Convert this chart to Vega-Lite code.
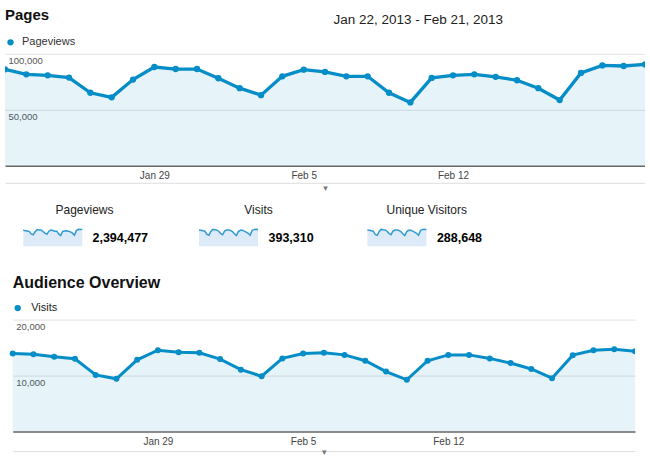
{
  "$schema": "https://vega.github.io/schema/vega-lite/v6.json",
  "padding": {"left": 5, "top": 7.8, "right": 0, "bottom": 0},
  "background": "white",
  "datasets": {
    "ga": [
      {"d": "2013-01-22T00:00:00", "pv": 86100, "v": 13950, "uv": 10240},
      {"d": "2013-01-23T00:00:00", "pv": 81700, "v": 13830, "uv": 10150},
      {"d": "2013-01-24T00:00:00", "pv": 80800, "v": 13350, "uv": 9800},
      {"d": "2013-01-25T00:00:00", "pv": 78800, "v": 13000, "uv": 9540},
      {"d": "2013-01-26T00:00:00", "pv": 65200, "v": 10120, "uv": 7430},
      {"d": "2013-01-27T00:00:00", "pv": 61100, "v": 9420, "uv": 6910},
      {"d": "2013-01-28T00:00:00", "pv": 77000, "v": 12820, "uv": 9410},
      {"d": "2013-01-29T00:00:00", "pv": 88200, "v": 14530, "uv": 10660},
      {"d": "2013-01-30T00:00:00", "pv": 86400, "v": 14180, "uv": 10410},
      {"d": "2013-01-31T00:00:00", "pv": 86400, "v": 14060, "uv": 10320},
      {"d": "2013-02-01T00:00:00", "pv": 78200, "v": 12950, "uv": 9510},
      {"d": "2013-02-02T00:00:00", "pv": 69300, "v": 11060, "uv": 8120},
      {"d": "2013-02-03T00:00:00", "pv": 63100, "v": 9890, "uv": 7260},
      {"d": "2013-02-04T00:00:00", "pv": 79900, "v": 13070, "uv": 9590},
      {"d": "2013-02-05T00:00:00", "pv": 85800, "v": 13950, "uv": 10240},
      {"d": "2013-02-06T00:00:00", "pv": 83800, "v": 14060, "uv": 10320},
      {"d": "2013-02-07T00:00:00", "pv": 79900, "v": 13700, "uv": 10060},
      {"d": "2013-02-08T00:00:00", "pv": 79900, "v": 12650, "uv": 9290},
      {"d": "2013-02-09T00:00:00", "pv": 65200, "v": 10710, "uv": 7860},
      {"d": "2013-02-10T00:00:00", "pv": 56600, "v": 9240, "uv": 6780},
      {"d": "2013-02-11T00:00:00", "pv": 78500, "v": 12650, "uv": 9290},
      {"d": "2013-02-12T00:00:00", "pv": 80800, "v": 13700, "uv": 10060},
      {"d": "2013-02-13T00:00:00", "pv": 81700, "v": 13700, "uv": 10060},
      {"d": "2013-02-14T00:00:00", "pv": 79400, "v": 13070, "uv": 9590},
      {"d": "2013-02-15T00:00:00", "pv": 76400, "v": 12240, "uv": 8980},
      {"d": "2013-02-16T00:00:00", "pv": 69300, "v": 11180, "uv": 8210},
      {"d": "2013-02-17T00:00:00", "pv": 58700, "v": 9540, "uv": 7000},
      {"d": "2013-02-18T00:00:00", "pv": 82900, "v": 13650, "uv": 10020},
      {"d": "2013-02-19T00:00:00", "pv": 89600, "v": 14530, "uv": 10660},
      {"d": "2013-02-20T00:00:00", "pv": 89100, "v": 14710, "uv": 10800},
      {"d": "2013-02-21T00:00:00", "pv": 90500, "v": 14360, "uv": 10540}
    ]
  },
  "title": {
    "text": "Jan 22, 2013 - Feb 21, 2013",
    "anchor": "end",
    "frame": "bounds",
    "fontSize": 13.5,
    "fontWeight": "normal",
    "color": "#222",
    "baseline": "alphabetic",
    "offset": 0,
    "dx": -142,
    "dy": 28.7
  },
  "spacing": 10.4,
  "resolve": {"scale": {"color": "independent"}, "legend": {"color": "independent"}},
  "vconcat": [
    {
      "width": 640,
      "height": 112,
      "data": {"name": "ga"},
      "title": {"text": "Pages", "anchor": "start", "frame": "group", "fontSize": 15, "fontWeight": "bold", "color": "#111", "baseline": "alphabetic", "offset": 1.3},
      "resolve": {"axis": {"x": "independent"}},
      "layer": [
        {
          "mark": {"type": "area", "color": "#058dc7", "opacity": 0.1, "clip": true},
          "encoding": {
            "x": {
              "field": "d", "type": "temporal", "title": null,
              "axis": {
                "orient": "bottom",
                "values": [{"year": 2013, "month": "jan", "date": 29}, {"year": 2013, "month": "feb", "date": 5}, {"year": 2013, "month": "feb", "date": 12}],
                "format": "%b %-d", "grid": false, "ticks": false, "tickSize": 0,
                "domain": true, "domainColor": "#666", "domainWidth": 1.5,
                "labelFontSize": 10, "labelColor": "#444", "labelPadding": 5, "labelFlush": false
              }
            },
            "y": {
              "field": "pv", "type": "quantitative", "title": null,
              "scale": {"domain": [0, 100000], "nice": false},
              "axis": {"values": [50000, 100000], "format": ",d", "grid": true, "gridColor": "#e2e2e2", "domain": false, "ticks": false, "tickSize": 0, "labelAlign": "left", "labelBaseline": "top", "labelPadding": -3, "labelOffset": 1.5, "labelFontSize": 9.5, "labelColor": "#555", "labelFlush": false}
            }
          }
        },
        {
          "mark": {"type": "line", "color": "#058dc7", "strokeWidth": 3.3, "clip": true},
          "encoding": {
            "x": {
              "field": "d", "type": "temporal", "title": "▾",
              "axis": {"orient": "bottom", "offset": 17, "labels": false, "ticks": false, "grid": false, "domain": true, "domainColor": "#dddddd", "domainWidth": 1, "minExtent": 0, "titleFont": "DejaVu Sans", "titleFontSize": 9, "titleFontWeight": "normal", "titleColor": "#777", "titlePadding": 1}
            },
            "y": {"field": "pv", "type": "quantitative"}
          }
        },
        {
          "mark": {"type": "point", "filled": true, "opacity": 1, "size": 40, "clip": true},
          "encoding": {
            "x": {"field": "d", "type": "temporal", "axis": null},
            "y": {"field": "pv", "type": "quantitative"},
            "color": {"datum": "Pageviews", "scale": {"range": ["#058dc7"]}, "legend": {"orient": "top", "title": null, "symbolType": "circle", "symbolSize": 40, "labelFontSize": 11, "labelColor": "#333", "offset": 6.5, "padding": 0, "labelOffset": 6}}
          }
        }
      ]
    },
    {
      "bounds": "flush",
      "spacing": 108.7,
      "hconcat": [
        {
          "width": 77, "height": 35.8,
          "data": {"name": "ga"},
          "title": {"text": "Pageviews", "frame": "group", "anchor": "middle", "dx": 41, "offset": 0.4, "baseline": "alphabetic", "fontSize": 12, "fontWeight": "normal", "color": "#222"},
          "encoding": {
            "x": {"field": "d", "type": "temporal", "axis": null, "scale": {"range": [18.3, 77.3]}},
            "y": {"field": "pv", "type": "quantitative", "scale": {"domain": [0, 95800], "nice": false, "range": [18, 0]},
              "axis": {"orient": "right", "title": "2,394,477", "labels": false, "ticks": false, "domain": false, "grid": false, "minExtent": 0, "titleAngle": 0, "titleAlign": "left", "titleBaseline": "middle", "titlePadding": 10, "titleFontSize": 12.5, "titleFontWeight": "bold", "titleColor": "#000"}}
          },
          "layer": [
            {"mark": {"type": "area", "color": "#dcebf7", "opacity": 1}},
            {"mark": {"type": "line", "color": "#2f9ad3", "strokeWidth": 1.5}}
          ]
        },
        {
          "width": 67.3, "height": 35.8,
          "data": {"name": "ga"},
          "title": {"text": "Visits", "frame": "group", "anchor": "middle", "dx": 34.15, "offset": 0.4, "baseline": "alphabetic", "fontSize": 12, "fontWeight": "normal", "color": "#222"},
          "encoding": {
            "x": {"field": "d", "type": "temporal", "axis": null, "scale": {"range": [8.3, 67.3]}},
            "y": {"field": "v", "type": "quantitative", "scale": {"domain": [0, 15580], "nice": false, "range": [18, 0]},
              "axis": {"orient": "right", "title": "393,310", "labels": false, "ticks": false, "domain": false, "grid": false, "minExtent": 0, "titleAngle": 0, "titleAlign": "left", "titleBaseline": "middle", "titlePadding": 10, "titleFontSize": 12.5, "titleFontWeight": "bold", "titleColor": "#000"}}
          },
          "layer": [
            {"mark": {"type": "area", "color": "#dcebf7", "opacity": 1}},
            {"mark": {"type": "line", "color": "#2f9ad3", "strokeWidth": 1.5}}
          ]
        },
        {
          "width": 59, "height": 35.8,
          "data": {"name": "ga"},
          "title": {"text": "Unique Visitors", "frame": "group", "anchor": "middle", "dx": 29.8, "offset": 0.4, "baseline": "alphabetic", "fontSize": 12, "fontWeight": "normal", "color": "#222"},
          "encoding": {
            "x": {"field": "d", "type": "temporal", "axis": null},
            "y": {"field": "uv", "type": "quantitative", "scale": {"domain": [0, 11440], "nice": false, "range": [18, 0]},
              "axis": {"orient": "right", "title": "288,648", "labels": false, "ticks": false, "domain": false, "grid": false, "minExtent": 0, "titleAngle": 0, "titleAlign": "left", "titleBaseline": "middle", "titlePadding": 10, "titleFontSize": 12.5, "titleFontWeight": "bold", "titleColor": "#000"}}
          },
          "layer": [
            {"mark": {"type": "area", "color": "#dcebf7", "opacity": 1}},
            {"mark": {"type": "line", "color": "#2f9ad3", "strokeWidth": 1.5}}
          ]
        }
      ]
    },
    {
      "width": 630,
      "height": 112,
      "data": {"name": "ga"},
      "title": {"text": "Audience Overview", "anchor": "start", "frame": "group", "fontSize": 16, "fontWeight": "bold", "color": "#111", "baseline": "alphabetic", "offset": -1.7, "dx": 7.7},
      "resolve": {"axis": {"x": "independent"}},
      "layer": [
        {
          "mark": {"type": "area", "color": "#058dc7", "opacity": 0.1, "clip": true},
          "encoding": {
            "x": {
              "field": "d", "type": "temporal", "title": null,
              "scale": {"range": [7.7, 630]},
              "axis": {
                "orient": "bottom",
                "values": [{"year": 2013, "month": "jan", "date": 29}, {"year": 2013, "month": "feb", "date": 5}, {"year": 2013, "month": "feb", "date": 12}],
                "format": "%b %-d", "grid": false, "ticks": false, "tickSize": 0,
                "domain": true, "domainColor": "#666", "domainWidth": 1.5,
                "labelFontSize": 10, "labelColor": "#444", "labelPadding": 4.5, "labelFlush": false
              }
            },
            "y": {
              "field": "v", "type": "quantitative", "title": null,
              "scale": {"domain": [0, 20000], "nice": false},
              "axis": {"values": [10000, 20000], "format": ",d", "grid": true, "gridColor": "#e2e2e2", "domain": false, "ticks": false, "tickSize": 0, "labelAlign": "left", "labelBaseline": "top", "labelPadding": -10.7, "labelOffset": 1.5, "labelFontSize": 9.5, "labelColor": "#555", "labelFlush": false}
            }
          }
        },
        {
          "mark": {"type": "line", "color": "#058dc7", "strokeWidth": 3, "clip": true},
          "encoding": {
            "x": {
              "field": "d", "type": "temporal", "title": "▾",
              "axis": {"orient": "bottom", "offset": 19.5, "labels": false, "ticks": false, "grid": false, "domain": true, "domainColor": "#dddddd", "domainWidth": 1, "minExtent": 0, "titleFont": "DejaVu Sans", "titleFontSize": 9, "titleFontWeight": "normal", "titleColor": "#777", "titlePadding": -3.5}
            },
            "y": {"field": "v", "type": "quantitative"}
          }
        },
        {
          "mark": {"type": "point", "filled": true, "opacity": 1, "size": 36, "clip": true},
          "encoding": {
            "x": {"field": "d", "type": "temporal", "axis": null},
            "y": {"field": "v", "type": "quantitative"},
            "color": {"datum": "Visits", "scale": {"range": ["#058dc7"]}, "legend": {"orient": "top", "title": null, "symbolType": "circle", "symbolSize": 40, "symbolOffset": 7.2, "labelFontSize": 11, "labelColor": "#222", "offset": 6, "padding": 0, "labelOffset": 8}}
          }
        }
      ]
    }
  ],
  "config": {
    "view": {"stroke": null, "fill": "white"},
    "font": "'Liberation Sans', Arial, sans-serif"
  }
}
